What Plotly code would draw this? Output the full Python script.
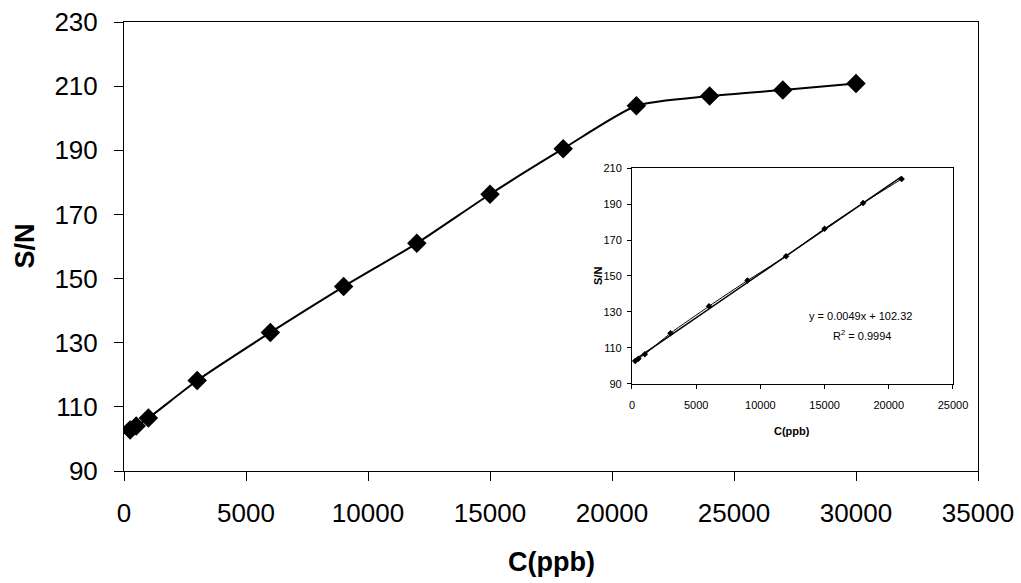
import plotly.graph_objects as go

# Data
conc = [250, 500, 1000, 3000, 6000, 9000, 12000, 15000, 18000, 21000, 24000, 27000, 30000]
sn = [102.8, 104.0, 106.5, 118.2, 133.2, 147.5, 161.0, 176.3, 190.5, 203.9, 206.9, 208.8, 210.8]

inset_conc = [250, 500, 1000, 3000, 6000, 9000, 12000, 15000, 18000, 21000]
inset_sn = [102.8, 104.0, 106.5, 118.2, 133.2, 147.5, 161.0, 176.3, 190.5, 203.9]

slope = 0.0049
intercept = 102.32
trend_x = [250, 21000]
trend_y = [slope * v + intercept for v in trend_x]

main_font = "Liberation Sans, Arial, sans-serif"
narrow_font = "Liberation Sans Narrow, Arial Narrow, Liberation Sans, Arial, sans-serif"

fig = go.Figure()

fig.add_trace(go.Scatter(
    x=conc, y=sn, mode="lines+markers",
    line=dict(color="black", width=2, shape="spline", smoothing=0.6),
    marker=dict(symbol="diamond", size=15, color="black"),
    xaxis="x", yaxis="y", showlegend=False,
))

fig.add_trace(go.Scatter(
    x=inset_conc, y=inset_sn, mode="lines+markers",
    line=dict(color="black", width=1, shape="spline", smoothing=0.6),
    marker=dict(symbol="diamond", size=5, color="black"),
    xaxis="x2", yaxis="y2", showlegend=False,
))

fig.add_trace(go.Scatter(
    x=trend_x, y=trend_y, mode="lines",
    line=dict(color="black", width=1.5),
    xaxis="x2", yaxis="y2", showlegend=False,
))

fig.update_layout(
    width=1021, height=583,
    margin=dict(l=124, r=43, t=22, b=112),
    paper_bgcolor="white", plot_bgcolor="white",
    font=dict(family=main_font, color="black"),
    xaxis=dict(
        range=[0, 35000], dtick=5000, tick0=0, tickformat="d", automargin=False,
        showgrid=False, zeroline=False,
        showline=True, linecolor="black", linewidth=1, mirror=True,
        ticks="outside", ticklen=9, tickcolor="black",
        tickfont=dict(size=26, family=main_font),
        ticklabelstandoff=10,
    ),
    yaxis=dict(
        range=[90, 230], dtick=20, tick0=90, tickformat="d", automargin=False,
        showgrid=False, zeroline=False,
        showline=True, linecolor="black", linewidth=1, mirror=True,
        ticks="outside", ticklen=9, tickcolor="black",
        tickfont=dict(size=26, family=main_font),
        ticklabelstandoff=11,
    ),
    xaxis2=dict(
        domain=[0.5948, 0.9707], anchor="y2",
        range=[0, 25000], dtick=5000, tick0=0, tickformat="d", automargin=False,
        showgrid=False, zeroline=False,
        showline=True, linecolor="black", linewidth=1, mirror=True,
        ticks="outside", ticklen=4, tickcolor="black",
        tickfont=dict(size=11, family=narrow_font),
        ticklabelstandoff=7,
    ),
    yaxis2=dict(
        domain=[0.1938, 0.6748], anchor="x2",
        range=[90, 210], dtick=20, tick0=90, tickformat="d", automargin=False,
        showgrid=False, zeroline=False,
        showline=True, linecolor="black", linewidth=1, mirror=True,
        ticks="outside", ticklen=4, tickcolor="black",
        tickfont=dict(size=11, family=narrow_font),
        ticklabelstandoff=3,
    ),
    annotations=[
        dict(text="<b>C(ppb)</b>", xref="paper", yref="paper",
             x=0.5, y=-(562 - 471) / 449, showarrow=False,
             font=dict(size=27, family=main_font), xanchor="center", yanchor="middle"),
        dict(text="<b>S/N</b>", xref="paper", yref="paper",
             x=-(124 - 24) / 854, y=0.5, showarrow=False, textangle=-90,
             font=dict(size=27, family=main_font), xanchor="center", yanchor="middle"),
        dict(text="<b>C(ppb)</b>", xref="paper", yref="paper",
             x=(792 - 124) / 854, y=(471 - 431) / 449, showarrow=False,
             font=dict(size=11, family=narrow_font), xanchor="center", yanchor="middle"),
        dict(text="<b>S/N</b>", xref="paper", yref="paper",
             x=(598 - 124) / 854, y=(471 - 276) / 449, showarrow=False, textangle=-90,
             font=dict(size=11, family=narrow_font), xanchor="center", yanchor="middle"),
        dict(text="y = 0.0049x + 102.32", xref="paper", yref="paper",
             x=(860 - 124) / 854, y=(471 - 316) / 449, showarrow=False,
             font=dict(size=11, family=narrow_font), xanchor="center", yanchor="middle"),
        dict(text="R<sup>2</sup> = 0.9994", xref="paper", yref="paper",
             x=(862 - 124) / 854, y=(471 - 335) / 449, showarrow=False,
             font=dict(size=11, family=narrow_font), xanchor="center", yanchor="middle"),
    ],
)

fig.write_html("out.html")
